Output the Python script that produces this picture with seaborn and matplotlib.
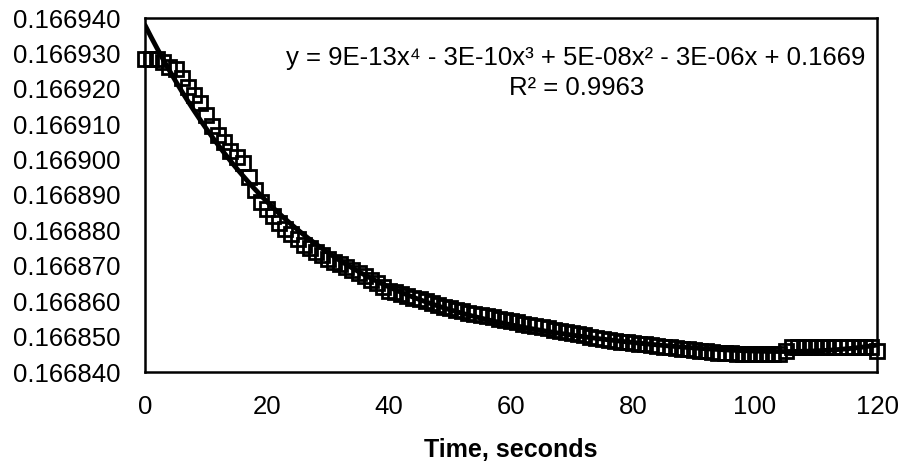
import numpy as np
import pandas as pd
import matplotlib
matplotlib.use("Agg")
import matplotlib.pyplot as plt
import seaborn as sns

# datos (una muestra por segundo)
tiempo = list(range(0, 121))
valores = [
    0.1669285, 0.1669285, 0.1669285, 0.1669275, 0.1669262, 0.1669255, 0.1669230, 0.1669206,
    0.1669182, 0.1669159, 0.1669125, 0.1669095, 0.1669070, 0.1669050, 0.1669025, 0.1669008,
    0.1668990, 0.1668950, 0.1668915, 0.1668880, 0.1668860, 0.1668840, 0.1668820, 0.1668805,
    0.1668790, 0.1668775, 0.1668760, 0.1668750, 0.1668740, 0.1668730, 0.1668720, 0.1668712,
    0.1668704, 0.1668696, 0.1668688, 0.1668680, 0.1668670, 0.1668660, 0.1668650, 0.1668640,
    0.1668630, 0.1668625, 0.1668620, 0.1668615, 0.1668610, 0.1668605, 0.1668600, 0.1668595,
    0.1668590, 0.1668585, 0.1668580, 0.1668576, 0.1668572, 0.1668568, 0.1668564, 0.1668560,
    0.1668557, 0.1668554, 0.1668550, 0.1668547, 0.1668544, 0.1668540, 0.1668537, 0.1668534,
    0.1668530, 0.1668527, 0.1668524, 0.1668520, 0.1668517, 0.1668514, 0.1668510, 0.1668507,
    0.1668504, 0.1668500, 0.1668497, 0.1668494, 0.1668490, 0.1668488, 0.1668486, 0.1668484,
    0.1668482, 0.1668480, 0.1668478, 0.1668476, 0.1668474, 0.1668472, 0.1668470, 0.1668468,
    0.1668466, 0.1668464, 0.1668462, 0.1668460, 0.1668458, 0.1668456, 0.1668455, 0.1668454,
    0.1668453, 0.1668452, 0.1668452, 0.1668451, 0.1668451, 0.1668450, 0.1668450, 0.1668450,
    0.1668450, 0.1668460, 0.1668470, 0.1668470, 0.1668470, 0.1668470, 0.1668470, 0.1668470,
    0.1668470, 0.1668470, 0.1668470, 0.1668470, 0.1668470, 0.1668470, 0.1668470, 0.1668470,
    0.1668460,
]
y_ticks = [0.166840, 0.166850, 0.166860, 0.166870, 0.166880, 0.166890,
           0.166900, 0.166910, 0.166920, 0.166930, 0.166940]
x_ticks = [0, 20, 40, 60, 80, 100, 120]
ecuacion = "y = 9E-13x\u2074 - 3E-10x\u00b3 + 5E-08x\u00b2 - 3E-06x + 0.1669\nR\u00b2 = 0.9963"

df = pd.DataFrame({"t": tiempo, "y": valores})

# linea de tendencia polinomica de grado 4
coef = np.polyfit(df["t"], df["y"], 4)
df["ajuste"] = np.polyval(coef, df["t"])

sns.set_style("white")
plt.rcParams["font.family"] = ["Liberation Sans", "DejaVu Sans"]
plt.rcParams["text.color"] = "black"
plt.rcParams["xtick.color"] = "black"
plt.rcParams["ytick.color"] = "black"
plt.rcParams["axes.labelcolor"] = "black"

fig = plt.figure(figsize=(9.02, 4.67), dpi=100)
ax = fig.add_axes([145 / 902, 1 - 372 / 467, (877 - 145) / 902, (372 - 18) / 467])

sns.lineplot(data=df, x="t", y="y", ax=ax, marker="s", linestyle="none",
             markersize=9.5, markerfacecolor="none", markeredgecolor="black",
             markeredgewidth=2.0, color="black", clip_on=False)
sns.lineplot(data=df, x="t", y="ajuste", ax=ax, color="black", linewidth=3.5)

ax.set_xlim(0, 120)
ax.set_ylim(0.166840, 0.166940)
ax.set_xticks(x_ticks)
ax.set_yticks(y_ticks)
ax.set_yticklabels([f"{v:.6f}" for v in y_ticks], fontsize=18.5)
ax.set_xticklabels([str(v) for v in x_ticks], fontsize=18.5)
ax.tick_params(axis="both", direction="inout", length=9, width=1.4, color="black",
               labelcolor="black")
ax.tick_params(axis="y", pad=13)
ax.tick_params(axis="x", pad=12)

for lado in ["left", "bottom", "top", "right"]:
    ax.spines[lado].set_color("black")
    ax.spines[lado].set_linewidth(1.8)

ax.set_xlabel("Time, seconds", fontsize=18, fontweight="bold", labelpad=14, color="black")
ax.set_ylabel("")

ax.text(0.589, 0.845, ecuacion, transform=ax.transAxes, ha="center", va="center",
        fontsize=18.5, linespacing=1.3, color="black")

plt.savefig("out.png", dpi=100)
